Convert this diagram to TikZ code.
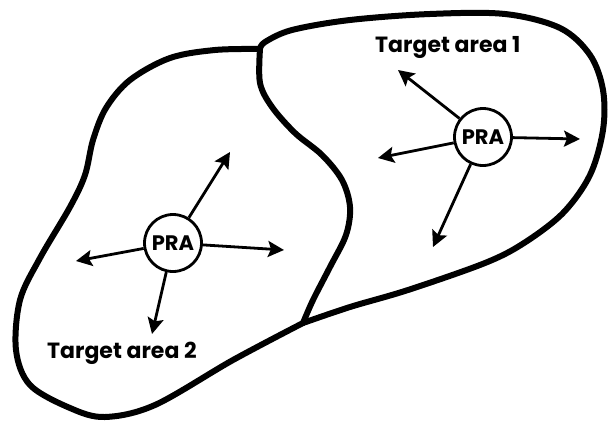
\documentclass[tikz,border=0pt]{standalone}
\usepackage{fontspec}
\setmainfont{Poppins}
\usetikzlibrary{arrows.meta}
\begin{document}
\begin{tikzpicture}[x=1pt,y=-1pt,
  outline/.style={line width=6pt,line join=round,line cap=round},
  pra/.style={circle,draw,line width=2.8pt,minimum size=57pt,inner sep=0pt,font=\fontsize{21}{21}\selectfont\bfseries},
  ray/.style={line width=2.8pt,-{Stealth[length=16pt,width=16pt,inset=3pt]}},
  lbl/.style={font=\fontsize{22}{22}\selectfont\bfseries,inner sep=0pt,anchor=base west}]
\useasboundingbox (0,0) rectangle (609,423);
% left region outline
\draw[outline] plot[smooth,tension=0.55] coordinates {(260,49) (215,50) (170,58) (130,80) (106,108) (93,140) (85,175) (70,207) (40,258) (20,300) (16,350) (30,385) (70,408) (105,417) (155,405) (233,360) (303,323)};
% right region outline
\draw[outline] plot[smooth,tension=0.55] coordinates {(303,323) (350,307) (408,290) (485,263) (524,243) (563,213) (590,175) (603,130) (603,90) (590,55) (560,28) (505,14) (430,14) (350,20) (292,30) (265,42) (260,49)};
% divider
\draw[outline] plot[smooth,tension=0.55] coordinates {(260,49) (260,83) (272,107) (295,133) (322,155) (342,180) (350,207) (346,235) (330,267) (313,300) (303,323)};
% right PRA
\node[pra] (p1) at (483,137) {PRA};
\coordinate (p1a) at (398,70);
\coordinate (p1b) at (580,139);
\coordinate (p1c) at (378,158);
\coordinate (p1d) at (433,247);
\foreach \t in {p1a,p1b,p1c,p1d} \draw[ray] (p1) -- (\t);
% left PRA
\node[pra] (p2) at (173,243) {PRA};
\coordinate (p2a) at (230,152);
\coordinate (p2b) at (284,250);
\coordinate (p2c) at (76,261);
\coordinate (p2d) at (152,334);
\foreach \t in {p2a,p2b,p2c,p2d} \draw[ray] (p2) -- (\t);
% labels
\node[lbl] (t1) at (375,52) {Target area 1};
\node[lbl] (t2) at (47,358) {Target area 2};
\end{tikzpicture}
\end{document}
